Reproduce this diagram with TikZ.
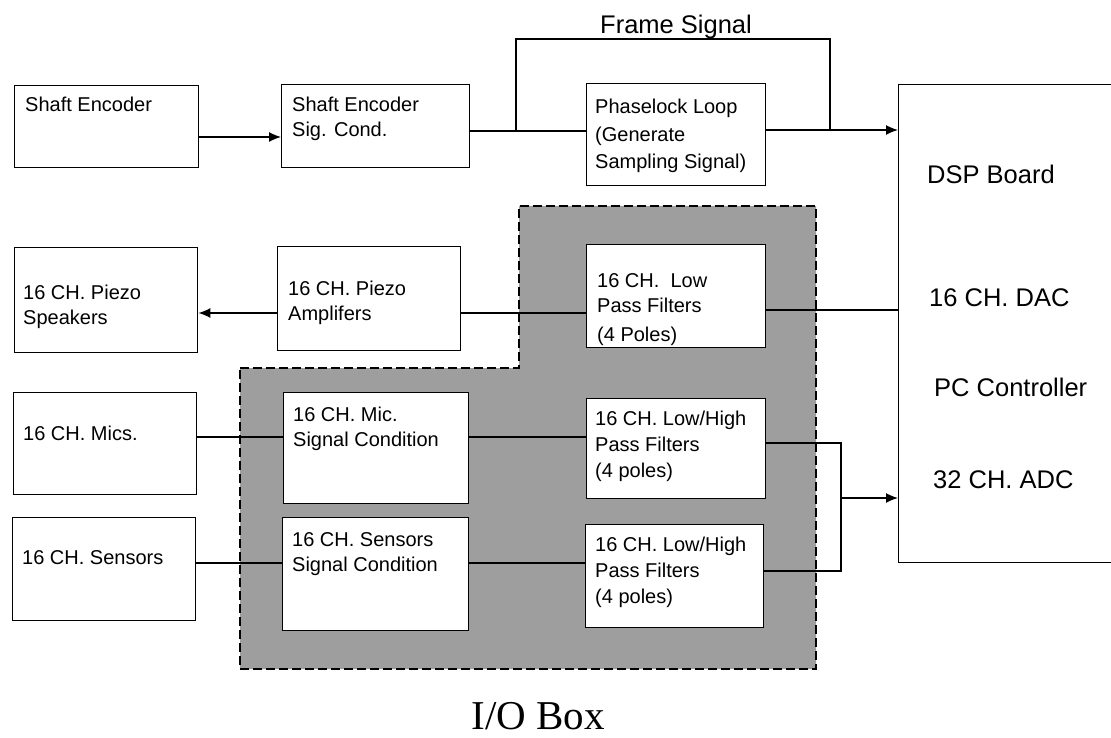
\documentclass[tikz,border=0pt]{standalone}
\usepackage{fontspec}
\setmainfont{Liberation Serif}
\setsansfont{Liberation Sans}
\usetikzlibrary{arrows.meta, calc}

\tikzset{
  blk/.style={draw, line width=1.4pt, fill=white, anchor=north west, inner sep=0pt},
  lbl/.style={anchor=north west, inner sep=0pt, align=left, font=\sffamily\fontsize{20}{25}\selectfont},
  big/.style={anchor=north west, inner sep=0pt, font=\sffamily\fontsize{25.5}{30}\selectfont},
  sig/.style={line width=1.3pt},
  arr/.style={line width=1.3pt, -{Latex[length=12pt,width=10pt]}},
  iobox/.style={draw, line width=2.5pt, dash pattern=on 9pt off 4pt, fill=black!38}
}

\begin{document}
\begin{tikzpicture}[x=1pt, y=-1pt]
\clip (0,0) rectangle (1111,738);
% I/O box region
\draw[iobox] (240,368) -- (519,368) -- (519,206) -- (816,206) -- (816,669) -- (240,669) -- cycle;
\node[anchor=base, inner sep=0pt, font=\fontsize{41}{45}\selectfont] (io) at (538,729) {I/O Box};
% boxes
\node[blk, minimum width=184pt, minimum height=82pt] (senc) at (14,85) {};
\node[blk, minimum width=188pt, minimum height=83pt] (scond) at (281,84) {};
\node[blk, minimum width=179pt, minimum height=102pt] (pll) at (586,83) {};
\node[blk, minimum width=232pt, minimum height=478pt] (dsp) at (898,84) {};
\node[blk, minimum width=183pt, minimum height=105pt] (spk) at (14,247) {};
\node[blk, minimum width=183pt, minimum height=104pt] (amp) at (277,246) {};
\node[blk, minimum width=179pt, minimum height=103pt] (lpf) at (586,244) {};
\node[blk, minimum width=183pt, minimum height=102pt] (mic) at (13,392) {};
\node[blk, minimum width=183pt, minimum height=103pt] (sen) at (12,517) {};
\node[blk, minimum width=185pt, minimum height=111pt] (micsc) at (283,392) {};
\node[blk, minimum width=186pt, minimum height=113pt] (sensc) at (282,517) {};
\node[blk, minimum width=179pt, minimum height=100pt] (lhf1) at (586,398) {};
\node[blk, minimum width=178pt, minimum height=103pt] (lhf2) at (585,524) {};
% texts
\node[lbl] (senc-t) at (25,97) {Shaft Encoder};
\node[lbl] (scond-t) at (292,97) {Shaft Encoder\\Sig. Cond.};
\node[lbl, font=\sffamily\fontsize{20}{27.5}\selectfont] (pll-t) at (595,99) {Phaselock Loop\\(Generate\\Sampling Signal)};
\node[lbl] (spk-t) at (23,285) {16 CH. Piezo\\Speakers};
\node[lbl] (amp-t) at (288,281) {16 CH. Piezo\\Amplifers};
\node[lbl] (lpf-t) at (597,273) {16 CH.\ \ Low\\Pass Filters\\[4pt](4 Poles)};
\node[lbl] (mic-t) at (23,426) {16 CH. Mics.};
\node[lbl] (sen-t) at (22,550) {16 CH. Sensors};
\node[lbl] (micsc-t) at (293,407) {16 CH. Mic.\\Signal Condition};
\node[lbl] (sensc-t) at (292,532) {16 CH. Sensors\\Signal Condition};
\node[lbl, font=\sffamily\fontsize{20}{26}\selectfont] (lhf1-t) at (595,411) {16 CH. Low/High\\Pass Filters\\(4 poles)};
\node[lbl, font=\sffamily\fontsize{20}{26}\selectfont] (lhf2-t) at (595,537) {16 CH. Low/High\\Pass Filters\\(4 poles)};
\node[big] (fs) at (600,15) {Frame Signal};
\node[big] (dsp-a) at (927,165) {DSP Board};
\node[big] (dsp-b) at (929,288) {16 CH. DAC};
\node[big] (dsp-c) at (934,378) {PC Controller};
\node[big] (dsp-d) at (933,470) {32 CH. ADC};
% levels
\coordinate (yse) at (0,137);
\coordinate (fsl) at (516,131);
\coordinate (fstop) at (516,39);
\coordinate (fsr) at (830,130);
\coordinate (yspk) at (0,313);
\coordinate (ydac) at (0,310);
\coordinate (ymic) at (0,437);
\coordinate (ysen) at (0,563);
\coordinate (yhf1) at (0,443);
\coordinate (yhf2) at (0,571);
\coordinate (adcj) at (841,498);
% connectors
\draw[arr] (senc.east |- yse) -- (scond.west |- yse);
\draw[sig] (scond.east |- fsl) -- (pll.west |- fsl);
\draw[sig] (fsl) -- (fstop) -| (fsr);
\draw[arr] (pll.east |- fsr) -- (dsp.west |- fsr);
\draw[arr] (amp.west |- yspk) -- (spk.east |- yspk);
\draw[sig] (lpf.west |- yspk) -- (amp.east |- yspk);
\draw[sig] (lpf.east |- ydac) -- (dsp.west |- ydac);
\draw[sig] (mic.east |- ymic) -- (micsc.west |- ymic);
\draw[sig] (micsc.east |- ymic) -- (lhf1.west |- ymic);
\draw[sig] (sen.east |- ysen) -- (sensc.west |- ysen);
\draw[sig] (sensc.east |- ysen) -- (lhf2.west |- ysen);
\draw[sig] (lhf1.east |- yhf1) -| (adcj);
\draw[sig] (lhf2.east |- yhf2) -| (adcj);
\draw[arr] (adcj) -- (dsp.west |- adcj);
\end{tikzpicture}
\end{document}
